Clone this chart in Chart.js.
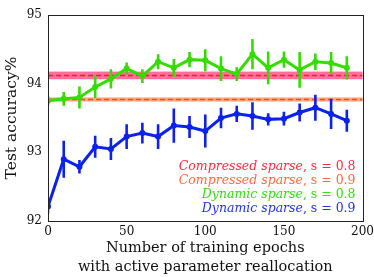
<!DOCTYPE html>
<html>
<head>
<meta charset="utf-8">
<script src="https://cdn.jsdelivr.net/npm/chart.js@4/dist/chart.umd.min.js"></script>
<style>
html,body{margin:0;padding:0;background:#fff;}
#wrap{width:374px;height:277px;position:relative;}
</style>
</head>
<body>
<div id="wrap"><canvas id="c" width="374" height="277"></canvas></div>
<script>
const epochs = [0,10,20,30,40,50,60,70,80,90,100,110,120,130,140,150,160,170,180,190];
const dynamic08 = [93.75,93.78,93.80,93.95,94.07,94.22,94.11,94.32,94.23,94.35,94.34,94.22,94.14,94.43,94.23,94.35,94.20,94.32,94.30,94.23];
const dynamic08Err = [0.07,0.10,0.16,0.16,0.14,0.09,0.10,0.11,0.13,0.11,0.16,0.18,0.10,0.22,0.24,0.12,0.26,0.12,0.16,0.17];
const dynamic09 = [92.21,92.90,92.79,93.08,93.05,93.23,93.28,93.23,93.39,93.37,93.31,93.50,93.56,93.53,93.48,93.49,93.58,93.65,93.56,93.46];
const dynamic09Err = [0.10,0.27,0.10,0.16,0.16,0.18,0.15,0.18,0.25,0.16,0.24,0.15,0.12,0.20,0.09,0.10,0.13,0.19,0.22,0.16];
const compressed08 = 94.12, compressed08Err = 0.056;
const compressed09 = 93.77, compressed09Err = 0.03;
const xTicks = [0,50,100,150,200];
const yTicks = [92,93,94,95];
const legendItems = [
  {name:"Compressed sparse", s:"0.8", color:"#ff2a3a"},
  {name:"Compressed sparse", s:"0.9", color:"#ff6a3a"},
  {name:"Dynamic sparse", s:"0.8", color:"#33dd11"},
  {name:"Dynamic sparse", s:"0.9", color:"#2233ee"}
];

const FONT = "'DejaVu Serif', serif";
const GREEN = "#33dd00", BLUE = "#0a22ee";
const pts = (ys) => epochs.map((e,i)=>({x:e,y:ys[i]}));
const flat = (v) => [{x:0,y:v},{x:200,y:v}];

const bandsPlugin = {
  id:'bands',
  beforeDatasetsDraw(chart){
    const {ctx, chartArea:a, scales:{y}} = chart;
    ctx.save();
    ctx.fillStyle = "rgba(255,95,150,0.9)";
    const t1 = y.getPixelForValue(compressed08+compressed08Err), b1 = y.getPixelForValue(compressed08-compressed08Err);
    ctx.fillRect(a.left, t1, a.right-a.left, b1-t1);
    ctx.fillStyle = "rgba(255,160,120,0.9)";
    const t2 = y.getPixelForValue(compressed09+compressed09Err), b2 = y.getPixelForValue(compressed09-compressed09Err);
    ctx.fillRect(a.left, t2, a.right-a.left, b2-t2);
    ctx.restore();
  }
};

const errPlugin = {
  id:'errbars',
  afterDatasetsDraw(chart){
    const {ctx, scales:{x,y}} = chart;
    ctx.save();
    ctx.lineWidth = 2.6;
    const draw = (vals, errs, col) => {
      ctx.strokeStyle = col;
      epochs.forEach((e,i)=>{
        const px = x.getPixelForValue(e);
        ctx.beginPath();
        ctx.moveTo(px, y.getPixelForValue(vals[i]-errs[i]));
        ctx.lineTo(px, y.getPixelForValue(vals[i]+errs[i]));
        ctx.stroke();
      });
    };
    ctx.beginPath();
    ctx.rect(chart.chartArea.left, chart.chartArea.top, chart.chartArea.right-chart.chartArea.left, chart.chartArea.bottom-chart.chartArea.top);
    ctx.clip();
    draw(dynamic08, dynamic08Err, GREEN);
    draw(dynamic09, dynamic09Err, BLUE);
    ctx.restore();
  }
};

const framePlugin = {
  id:'frame',
  afterDraw(chart){
    const {ctx, chartArea:a} = chart;
    ctx.save();
    ctx.strokeStyle = "#222";
    ctx.lineWidth = 1;
    ctx.strokeRect(Math.round(a.left)+0.5, Math.round(a.top)+0.5, Math.round(a.right-a.left), Math.round(a.bottom-a.top));
    // legend
    ctx.textBaseline = "alphabetic";
    const right = a.right - 7;
    let yy = a.top + 155;
    legendItems.forEach(it=>{
      ctx.fillStyle = it.color;
      ctx.font = "12.5px " + FONT;
      const tail = ", s = " + it.s;
      const tw = ctx.measureText(tail).width;
      ctx.textAlign = "right";
      ctx.fillText(tail, right, yy);
      ctx.font = "italic 12.5px " + FONT;
      ctx.fillText(it.name, right - tw, yy);
      yy += 14;
    });
    ctx.restore();
  }
};

new Chart(document.getElementById('c'), {
  type:'line',
  data:{
    datasets:[
      {data:pts(dynamic09), borderColor:BLUE, backgroundColor:BLUE, borderWidth:3, pointRadius:1.5, pointHoverRadius:0, tension:0, order:1},
      {data:pts(dynamic08), borderColor:GREEN, backgroundColor:GREEN, borderWidth:3, pointRadius:1.5, pointHoverRadius:0, tension:0, order:2},
      {data:flat(compressed08), borderColor:"#ff1a2a", borderWidth:1.6, borderDash:[5,3], pointRadius:0, order:3},
      {data:flat(compressed09), borderColor:"#ff4a1a", borderWidth:1.6, borderDash:[5,3], pointRadius:0, order:4}
    ]
  },
  options:{
    responsive:false,
    animation:false,
    events:[],
    layout:{padding:{top:15,right:11,left:0,bottom:0}},
    plugins:{legend:{display:false}, tooltip:{enabled:false}},
    scales:{
      x:{
        type:'linear', min:0, max:200,
        afterBuildTicks(s){ s.ticks = xTicks.map(v=>({value:v})); },
        afterFit(s){ s.height = 56; },
        grid:{display:false, drawOnChartArea:false, drawTicks:true, tickLength:4, tickColor:"#222"},
        border:{display:true, color:"#222"},
        ticks:{color:"#111", font:{family:FONT, size:12}, padding:0, maxRotation:0},
        title:{display:true, text:["Number of training epochs","with active parameter reallocation"], color:"#111", font:{family:FONT, size:14.5, lineHeight:1.3}, padding:{top:1,bottom:0}}
      },
      y:{
        min:92, max:95,
        afterBuildTicks(s){ s.ticks = yTicks.map(v=>({value:v})); },
        afterFit(s){ s.width = 48; },
        grid:{display:false, drawOnChartArea:false, drawTicks:true, tickLength:4, tickColor:"#222"},
        border:{display:true, color:"#222"},
        ticks:{color:"#111", font:{family:FONT, size:12}, padding:2},
        title:{display:true, text:"Test accuracy%", color:"#111", font:{family:FONT, size:15.5}, padding:{top:3,bottom:0}}
      }
    }
  },
  plugins:[bandsPlugin, errPlugin, framePlugin]
});
</script>
</body>
</html>
